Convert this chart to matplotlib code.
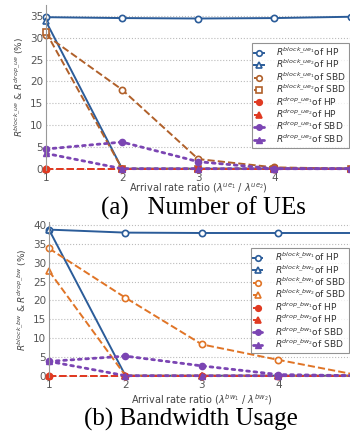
import matplotlib
matplotlib.use("Agg")
import matplotlib.pyplot as plt

# ── Data ──────────────────────────────────────────────────────────────────────
ratio = [1, 2, 3, 4, 5]

# (a) Number of UEs
ue_block1_hp  = [34.7, 34.5, 34.4, 34.5, 34.8]
ue_block2_hp  = [33.8, 0.0, 0.0, 0.0, 0.0]
ue_block1_sbd = [30.6, 18.1, 2.2, 0.3, 0.0]
ue_block2_sbd = [31.3, 0.0, 0.0, 0.0, 0.0]
ue_drop1_hp   = [0.0, 0.0, 0.0, 0.0, 0.0]
ue_drop2_hp   = [0.0, 0.0, 0.0, 0.0, 0.0]
ue_drop1_sbd  = [4.5, 6.1, 1.6, 0.0, 0.0]
ue_drop2_sbd  = [3.5, 0.0, 0.0, 0.0, 0.0]

# (b) Bandwidth usage
bw_block1_hp  = [38.8, 38.0, 37.9, 37.9, 37.9]
bw_block2_hp  = [38.8, 0.0, 0.0, 0.0, 0.0]
bw_block1_sbd = [33.8, 20.7, 8.3, 4.2, 0.3]
bw_block2_sbd = [27.8, 0.0, 0.0, 0.0, 0.0]
bw_drop1_hp   = [0.0, 0.0, 0.0, 0.0, 0.0]
bw_drop2_hp   = [0.0, 0.0, 0.0, 0.0, 0.0]
bw_drop1_sbd  = [3.8, 5.2, 2.6, 0.3, 0.0]
bw_drop2_sbd  = [3.8, 0.0, 0.0, 0.0, 0.0]

BLUE   = "#2b5c99"
BROWN  = "#b0602a"
ORANGE = "#e07426"
RED    = "#e03a22"
PURPLE = "#7b45b3"
GREY   = "#555555"


def draw(ax, series, tag, sbd_color, sbd_block2_marker, leg_anchor):
    b1h, b2h, b1s, b2s, d1h, d2h, d1s, d2s = series
    kw = dict(lw=1.4, ms=4.5, mew=1.2, clip_on=False)
    ax.plot(ratio, b1h, "-", color=BLUE, marker="o", mfc="white",
            label=rf"$R^{{block\_{tag}_1}}$of HP", **kw)
    ax.plot(ratio, b2h, "-", color=BLUE, marker="^", mfc="white",
            label=rf"$R^{{block\_{tag}_2}}$of HP", **kw)
    ax.plot(ratio, b1s, "--", color=sbd_color, marker="o", mfc="white",
            label=rf"$R^{{block\_{tag}_1}}$of SBD", **kw)
    ax.plot(ratio, b2s, "--", color=sbd_color, marker=sbd_block2_marker, mfc="white",
            label=rf"$R^{{block\_{tag}_2}}$of SBD", **kw)
    ax.plot(ratio, d1h, "--", color=RED, marker="o", mfc=RED,
            label=rf"$R^{{drop\_{tag}_1}}$of HP", **kw)
    ax.plot(ratio, d2h, "--", color=RED, marker="^", mfc=RED,
            label=rf"$R^{{drop\_{tag}_2}}$of HP", **kw)
    ax.plot(ratio, d1s, ":", color=PURPLE, marker="o", mfc=PURPLE, lw=2.0, ms=4.5,
            clip_on=False, dash_capstyle="round",
            label=rf"$R^{{drop\_{tag}_1}}$of SBD")
    ax.plot(ratio, d2s, ":", color=PURPLE, marker="^", mfc=PURPLE, lw=2.0, ms=4.5,
            clip_on=False, dash_capstyle="round",
            label=rf"$R^{{drop\_{tag}_2}}$of SBD")

    ax.set_xlim(1, 5)
    ax.set_xticks([1, 2, 3, 4])
    for s in ["top", "right", "bottom"]:
        ax.spines[s].set_visible(False)
    ax.spines["left"].set_color("#999999")
    ax.tick_params(axis="both", length=0, labelsize=7.5, colors=GREY, pad=2)
    ax.yaxis.grid(True, ls=":", color="#bbbbbb", lw=0.8)
    ax.set_axisbelow(True)
    leg = ax.legend(loc="upper right", bbox_to_anchor=leg_anchor, fontsize=6.5,
                    frameon=True, fancybox=False, handlelength=1.0,
                    handletextpad=1.4, borderpad=0.3, labelspacing=0.0,
                    borderaxespad=0)
    leg.get_frame().set_edgecolor("#777777")
    leg.get_frame().set_linewidth(0.8)
    for t in leg.get_texts():
        t.set_color("#333333")
    for h in leg.legend_handles:
        h.set_markersize(4)


fig = plt.figure(figsize=(3.5, 4.32), dpi=100)
plt.rcParams["mathtext.fontset"] = "dejavusans"

ax1 = fig.add_axes([0.131, 0.6065, 0.871, 0.382])
draw(ax1, [ue_block1_hp, ue_block2_hp, ue_block1_sbd, ue_block2_sbd,
           ue_drop1_hp, ue_drop2_hp, ue_drop1_sbd, ue_drop2_sbd], "ue", BROWN, "s",
     (0.993, 0.77))
ax1.set_ylim(-0.3, 37.5)
ax1.set_yticks([0, 5, 10, 15, 20, 25, 30, 35])
ax1.set_xlabel(r"Arrival rate ratio ($\lambda^{ue_1}$ / $\lambda^{ue_2}$)",
               fontsize=7, color="#444444", labelpad=-1)
ax1.set_ylabel(r"$R^{block\_ue}$ & $R^{drop\_ue}$ (%)", fontsize=6.5,
               color="#444444", labelpad=3)

ax2 = fig.add_axes([0.14, 0.1273, 0.874, 0.3595])
draw(ax2, [bw_block1_hp, bw_block2_hp, bw_block1_sbd, bw_block2_sbd,
           bw_drop1_hp, bw_drop2_hp, bw_drop1_sbd, bw_drop2_sbd], "bw", ORANGE, "^",
     (0.98, 0.83))
ax2.set_ylim(-0.35, 40.9)
ax2.set_yticks([0, 5, 10, 15, 20, 25, 30, 35, 40])
ax2.set_xlabel(r"Arrival rate ratio ($\lambda^{bw_1}$ / $\lambda^{bw_2}$)",
               fontsize=7, color="#444444", labelpad=2)
ax2.set_ylabel(r"$R^{block\_bw}$ & $R^{drop\_bw}$ (%)", fontsize=6.5,
               color="#444444", labelpad=3)

fig.text(0.58, 1 - 208 / 432, "(a)   Number of UEs", ha="center", va="center",
         fontsize=18, family="Liberation Serif")
fig.text(0.545, 1 - 419 / 432, "(b) Bandwidth Usage", ha="center", va="center",
         fontsize=18, family="Liberation Serif")

fig.savefig("out.png", dpi=100)
